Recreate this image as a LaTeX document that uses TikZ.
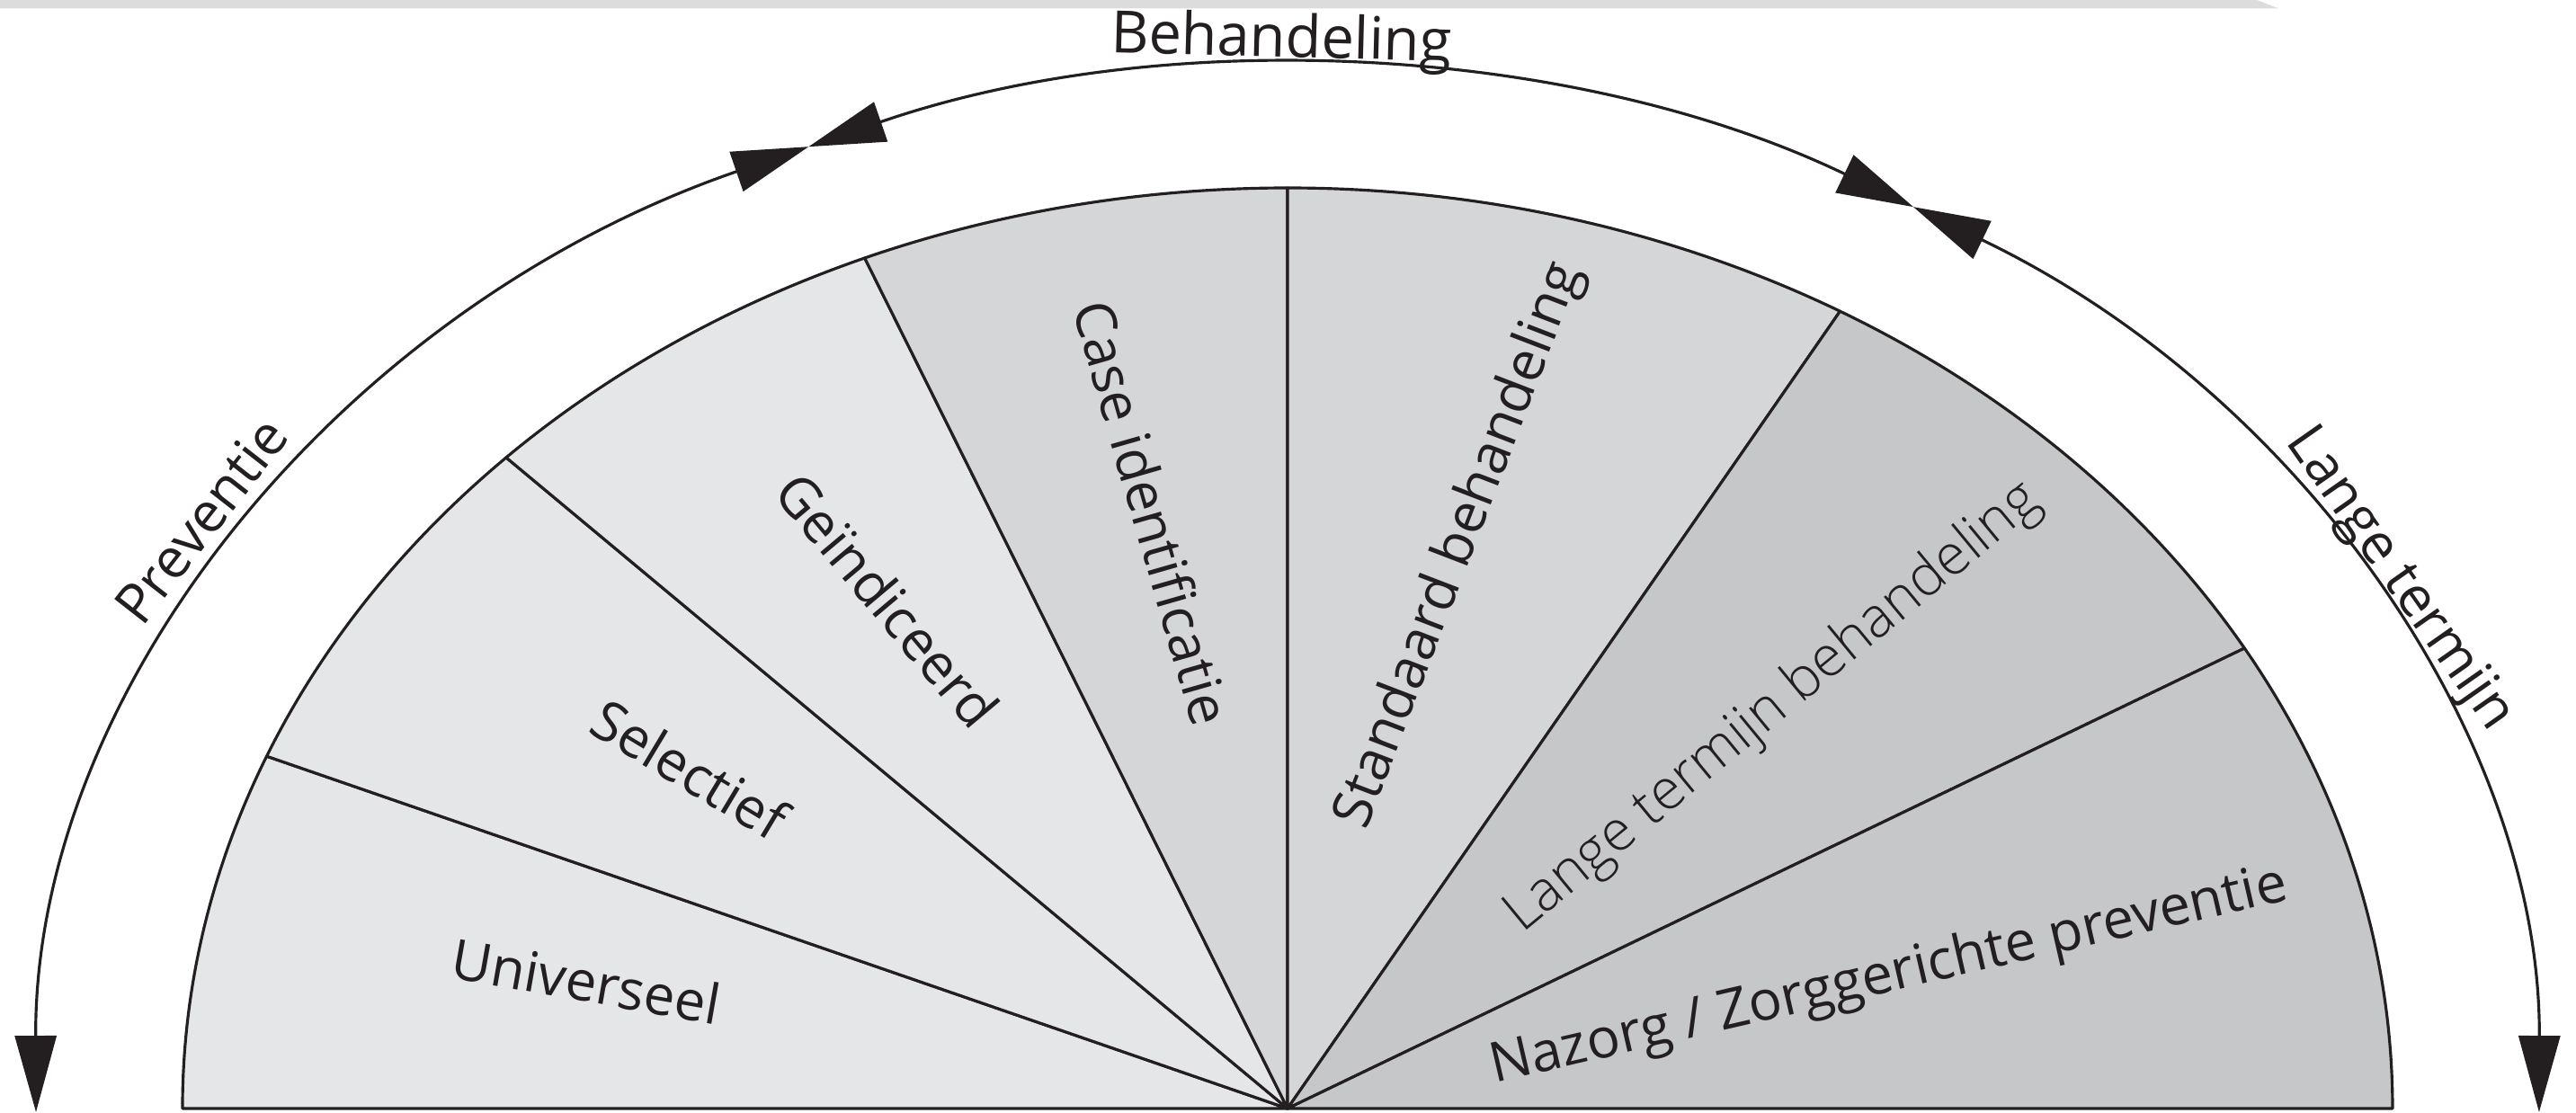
\documentclass[tikz,border=0pt]{standalone}
\usepackage{fontspec}
\setmainfont{Open Sans}
\newfontfamily\thinface{Open Sans Light}
\usetikzlibrary{arrows.meta}

\definecolor{ink}{HTML}{231F20}
\definecolor{fanLight}{HTML}{E5E6E8}
\definecolor{fanMid}{HTML}{D5D6D8}
\definecolor{fanDark}{HTML}{C6C7C9}
\definecolor{topBar}{HTML}{DCDCDC}

\begin{document}
\begin{tikzpicture}[
	sector/.style={ draw=ink, line width=0.9pt, line join=round },
	phase/.style={ draw=ink, line width=0.9pt, {Triangle[length=8.5mm,width=4.6mm]}-{Triangle[length=8.5mm,width=4.6mm]} },
	seclabel/.style={ text=ink, font=\fontsize{17.5}{20}\selectfont, inner sep=0pt },
	phaselabel/.style={ text=ink, font=\fontsize{17.5}{20}\selectfont, inner sep=0pt, anchor=base },
]
\useasboundingbox (-14.32,-0.04) rectangle (14.33,12.33);

\fill[topBar] (-14.32,12.33) -- (10.78,12.33) -- (11.02,12.237) -- (-14.32,12.237) -- cycle;

\coordinate (hub) at (0,0);

% fan of seven sectors
\foreach \a/\b/\c in {180/157.5/fanLight, 157.5/135/fanLight, 135/112.5/fanLight, 112.5/90/fanMid, 90/60/fanMid, 60/30/fanDark, 30/0/fanDark} {
	\filldraw[sector, fill=\c] (hub) -- (\a:12.29 and 10.24) arc[start angle=\a, end angle=\b, x radius=12.29, y radius=10.24] -- cycle;
}

\node at (-7.80,1.42) (universeel) [seclabel,rotate=-10] {Universeel};
\node at (-6.65,3.78) (selectief) [seclabel,rotate=-31] {Selectief};
\node at (-4.45,5.66) (geindiceerd) [seclabel,rotate=-50] {Geïndiceerd};
\node at (-1.50,6.63) (caseid) [seclabel,rotate=-74] {Case identificatie};
\node at (1.92,6.26) (standaard) [seclabel,rotate=69] {Standaard behandeling};
\node at (5.40,4.45) (langebeh) [seclabel,rotate=39.5,font=\thinface\fontsize{17.8}{20}\selectfont] {Lange termijn behandeling};
\node at (6.69,1.46) (nazorg) [seclabel,rotate=13] {Nazorg / Zorggerichte preventie};

% outer phases
\coordinate (prevStart) at (180.2:13.92 and 11.58);
\coordinate (behStart) at (112.5:13.92 and 11.58);
\coordinate (langStart) at (60:13.92 and 11.58);

\draw[phase] (prevStart) arc[start angle=180.2, end angle=112.5, x radius=13.92, y radius=11.58];
\draw[phase] (behStart) arc[start angle=112.5, end angle=60, x radius=13.92, y radius=11.58];
\draw[phase] (langStart) arc[start angle=60, end angle=-0.2, x radius=13.92, y radius=11.58];

\node at (147.2:14.17 and 11.83) (preventie) [phaselabel,rotate=52] {Preventie};
\node at (90.3:13.92 and 11.70) (behandeling) [phaselabel,rotate=-1.5,font=\fontsize{18.5}{21}\selectfont] {Behandeling};
\node at (29.6:14.07 and 11.73) (langetermijn) [phaselabel,rotate=-55] {Lange termijn};

\end{tikzpicture}
\end{document}
